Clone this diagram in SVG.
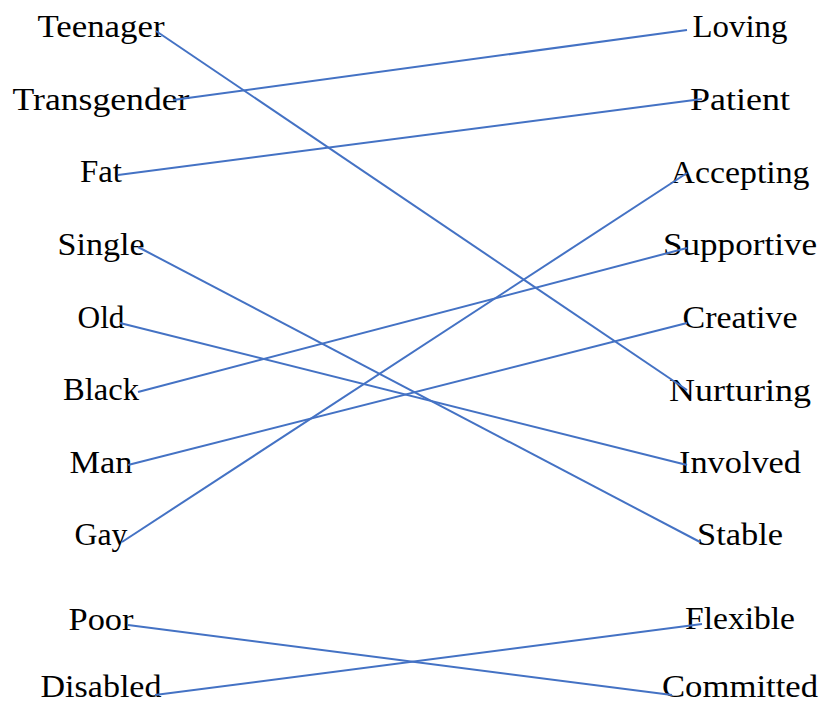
<svg xmlns="http://www.w3.org/2000/svg" width="822" height="704" viewBox="0 0 822 704">
<style>
text{font-family:"Liberation Serif","Times New Roman",serif;font-size:32px;fill:#000;text-anchor:middle}
.c line{stroke:#4472C4;stroke-width:2;fill:none}
</style>
<rect width="822" height="704" fill="#fff"/>
<g id="left">
<g id="n-teenager"><text x="101" y="37" textLength="127" lengthAdjust="spacingAndGlyphs">Teenager</text></g>
<g id="n-transgender"><text x="101" y="110" textLength="177" lengthAdjust="spacingAndGlyphs">Transgender</text></g>
<g id="n-fat"><text x="101" y="182" textLength="42" lengthAdjust="spacingAndGlyphs">Fat</text></g>
<g id="n-single"><text x="101" y="255" textLength="87" lengthAdjust="spacingAndGlyphs">Single</text></g>
<g id="n-old"><text x="101" y="328" textLength="47" lengthAdjust="spacingAndGlyphs">Old</text></g>
<g id="n-black"><text x="101" y="400" textLength="76" lengthAdjust="spacingAndGlyphs">Black</text></g>
<g id="n-man"><text x="101" y="473" textLength="63" lengthAdjust="spacingAndGlyphs">Man</text></g>
<g id="n-gay"><text x="101" y="545" textLength="53" lengthAdjust="spacingAndGlyphs">Gay</text></g>
<g id="n-poor"><text x="101" y="630" textLength="65" lengthAdjust="spacingAndGlyphs">Poor</text></g>
<g id="n-disabled"><text x="101" y="697" textLength="121" lengthAdjust="spacingAndGlyphs">Disabled</text></g>
</g>
<g id="right">
<g id="n-loving"><text x="740" y="37" textLength="95" lengthAdjust="spacingAndGlyphs">Loving</text></g>
<g id="n-patient"><text x="740" y="110" textLength="100" lengthAdjust="spacingAndGlyphs">Patient</text></g>
<g id="n-accepting"><text x="740" y="183" textLength="139" lengthAdjust="spacingAndGlyphs">Accepting</text></g>
<g id="n-supportive"><text x="740" y="255" textLength="154" lengthAdjust="spacingAndGlyphs">Supportive</text></g>
<g id="n-creative"><text x="740" y="328" textLength="115" lengthAdjust="spacingAndGlyphs">Creative</text></g>
<g id="n-nurturing"><text x="740" y="401" textLength="142" lengthAdjust="spacingAndGlyphs">Nurturing</text></g>
<g id="n-involved"><text x="740" y="473" textLength="122" lengthAdjust="spacingAndGlyphs">Involved</text></g>
<g id="n-stable"><text x="740" y="545" textLength="86" lengthAdjust="spacingAndGlyphs">Stable</text></g>
<g id="n-flexible"><text x="740" y="629" textLength="110" lengthAdjust="spacingAndGlyphs">Flexible</text></g>
<g id="n-committed"><text x="740" y="697" textLength="156" lengthAdjust="spacingAndGlyphs">Committed</text></g>
</g>
<g id="connectors" class="c">
<line x1="156" y1="31" x2="687" y2="390"/>
<line x1="173" y1="100" x2="687" y2="30"/>
<line x1="118" y1="175" x2="702" y2="99"/>
<line x1="138" y1="247" x2="700" y2="542"/>
<line x1="120" y1="323" x2="687" y2="465"/>
<line x1="138" y1="392" x2="687" y2="248"/>
<line x1="128" y1="465" x2="687" y2="323"/>
<line x1="122" y1="542" x2="687" y2="173"/>
<line x1="128" y1="625" x2="672" y2="695"/>
<line x1="155" y1="695" x2="702" y2="624"/>
</g>
</svg>
